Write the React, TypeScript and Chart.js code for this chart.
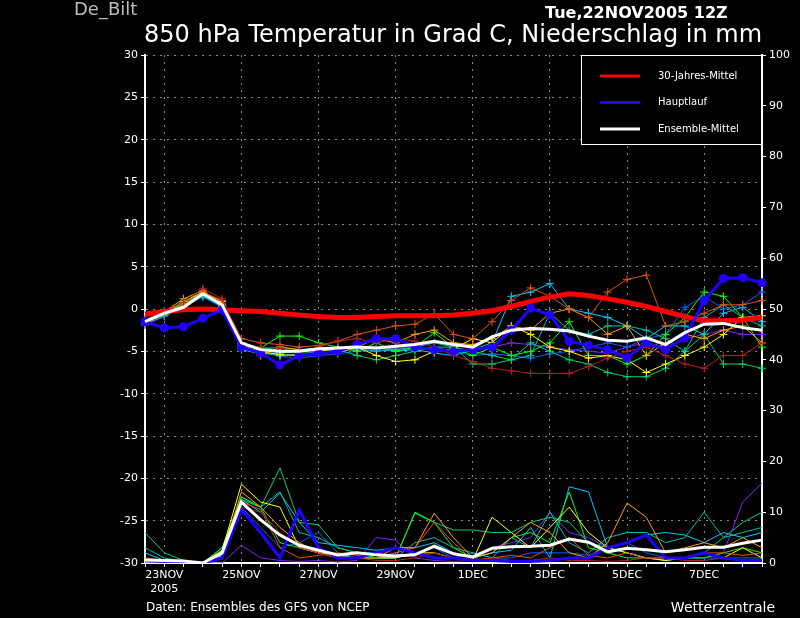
import React, { useEffect, useRef } from "react";
import { Chart, registerables } from "chart.js";
Chart.register(...registerables);

const N = 33;
const xLabels: string[][] = Array.from({ length: N }, () => [""]);
const tickNames: [number, string[]][] = [[1, ["23NOV", "2005"]], [5, ["25NOV"]], [9, ["27NOV"]], [13, ["29NOV"]], [17, ["1DEC"]], [21, ["3DEC"]], [25, ["5DEC"]], [29, ["7DEC"]]];
tickNames.forEach(([i, l]) => (xLabels[i] = l));

const climT = [-0.6,-0.3,-0.1,0.0,-0.1,-0.2,-0.3,-0.5,-0.7,-0.9,-1.0,-1.0,-0.9,-0.8,-0.8,-0.8,-0.7,-0.5,-0.2,0.3,0.9,1.4,1.8,1.6,1.2,0.8,0.3,-0.3,-0.9,-1.4,-1.4,-1.3,-1.0];
const mainT = [-1.5,-2.2,-2.1,-1.1,-0.1,-4.5,-5.2,-6.6,-5.5,-5.2,-5.0,-4.2,-3.5,-3.5,-4.5,-4.8,-5.0,-4.8,-4.5,-2.5,0.1,-0.7,-3.8,-4.3,-4.8,-5.8,-4.0,-4.8,-3.4,1.0,3.6,3.7,3.1];
const meanT = [-1.5,-0.5,0.2,1.8,0.5,-4.0,-4.8,-5.0,-5.0,-4.7,-4.6,-4.5,-4.6,-4.4,-4.2,-3.8,-4.2,-4.5,-3.3,-2.5,-2.3,-2.4,-2.6,-3.2,-3.7,-3.8,-3.4,-4.2,-2.8,-1.8,-1.7,-2.2,-2.5];
const memberColors = ["#b82020", "#e05010", "#ffa000", "#ffff00", "#00ff00", "#00d070", "#00c0a0", "#00c8ff", "#0060ff", "#8020ff"];
const memT1 = [-1.2,-0.2,0.8,2.4,1.2,-4.3,-4.5,-4.6,-5.2,-4.5,-3.8,-3.5,-4.0,-3.5,-3.8,-4.5,-5.5,-6.2,-7.0,-7.3,-7.6,-7.6,-7.6,-6.8,-5.8,-5.0,-4.5,-5.5,-6.5,-7.0,-5.5,-5.5,-4.0];
const memT2 = [-1.8,-0.6,0.5,2.0,1.0,-3.5,-4.0,-4.2,-4.5,-4.3,-3.8,-3.0,-2.5,-2.0,-1.8,-0.6,-3.0,-3.5,-1.5,1.0,2.5,1.5,0.0,-1.0,2.0,3.5,4.0,-2.0,-1.5,-0.5,0.5,0.5,1.0];
const memT3 = [-1.7,-0.3,1.2,2.2,0.5,-4.0,-5.5,-4.5,-4.8,-5.0,-5.2,-4.5,-3.5,-4.0,-3.0,-2.5,-4.0,-4.2,-3.5,-2.0,-2.5,-0.5,0.0,-1.0,-3.0,-2.0,-5.5,-4.0,-3.0,-3.5,-2.5,-2.0,-4.0];
const memT4 = [-1.6,-0.4,0.9,2.0,0.9,-4.5,-5.0,-5.4,-5.5,-5.0,-4.8,-4.5,-5.5,-6.2,-6.0,-5.0,-4.7,-3.5,-4.0,-2.0,-3.0,-4.5,-5.0,-5.8,-5.5,-6.0,-7.5,-6.5,-5.5,-4.5,-3.0,-1.0,-0.8];
const memT5 = [-1.4,-0.5,0.7,1.7,0.3,-4.0,-4.6,-3.2,-3.2,-4.0,-4.5,-5.0,-4.0,-5.0,-4.5,-2.8,-4.5,-5.5,-4.5,-5.5,-5.0,-4.0,-1.5,-5.5,-5.5,-6.5,-5.5,-3.0,-1.0,2.0,1.5,-1.0,-4.5];
const memT6 = [-1.5,-0.7,0.6,1.6,0.4,-4.2,-4.8,-4.5,-4.8,-4.6,-4.8,-5.5,-6.0,-5.5,-5.0,-4.5,-4.5,-6.5,-6.5,-6.0,-4.0,-5.0,-6.0,-6.5,-7.5,-8.0,-8.0,-7.0,-5.0,-3.0,-6.5,-6.5,-7.0];
const memT7 = [-1.3,-0.6,0.8,1.9,0.6,-4.4,-5.2,-5.5,-5.3,-5.0,-4.8,-4.6,-5.0,-4.8,-4.5,-4.0,-4.5,-5.0,-5.5,-6.0,-5.5,-0.5,-2.5,-3.0,-2.0,-2.0,-2.5,-3.5,-5.0,-1.0,0.5,-1.0,-2.0];
const memT8 = [-1.8,-0.8,0.4,1.5,0.3,-4.8,-5.3,-5.2,-5.0,-4.9,-5.0,-4.7,-4.5,-5.0,-4.8,-5.2,-5.5,-4.8,-4.0,1.5,2.0,3.0,0.0,-0.5,-1.0,-2.0,-3.5,-2.0,-2.0,-3.0,-0.5,0.2,-1.5];
const memT9 = [-1.9,-0.9,0.3,1.4,0.2,-4.6,-5.0,-5.6,-5.8,-5.5,-5.3,-5.0,-4.8,-4.9,-4.7,-4.5,-5.0,-5.5,-5.3,-5.5,-5.8,-5.3,-5.0,-4.5,-4.0,-4.5,-3.5,-3.0,0.2,1.5,0.0,0.5,2.0];
const memT10 = [-1.6,-0.5,0.6,1.8,0.7,-4.1,-4.9,-5.2,-5.0,-4.8,-4.6,-4.9,-5.0,-4.6,-4.4,-4.8,-5.2,-4.8,-4.5,-4.0,-4.2,-4.5,-4.8,-5.0,-5.2,-4.5,-4.0,-4.5,-3.5,-3.0,-2.5,-3.0,-3.0];

const mainP = [0.5,0.3,0.2,0,1,10.5,6,1,10.4,3,1,1,2,3,2,1,1,0.5,0.5,0.3,0.3,0.5,1,1,3,4,5.5,1,1,2,1,0.5,0.5];
const meanP = [0.6,0.5,0.4,0,2,12,8.5,5.5,3.5,2.5,1.6,2,1.6,1.4,1.6,3.3,1.8,1.2,2.9,3.2,3.3,3.5,4.7,4.1,2.2,2.9,2.6,2.2,2.6,3.1,3.1,3.9,4.5];
const memP1 = [0.5,0.3,0.2,0,2,11,10,6,3,2,1,1,0.5,0.5,1,2,1,0.5,1,0.5,0.5,1,0.5,0.5,0.3,0.5,1,1,0.5,0.5,1,0.5,0.5];
const memP2 = [1,0.5,0.3,0,2,12,10.5,3,1,1.5,2,1.5,1,2,3,8,4,0.5,1,1.5,1,3,5,1.5,1,2,1,1,1,2,2,1.5,2];
const memP3 = [0.5,0.4,0.3,0,1.5,14,11,7,4,2,1,1,1,3,3,9.8,5,1,2,5,8,6,2,1,4,11.8,9,2,3,4,3,5,3];
const memP4 = [0.3,0.2,0.1,0,2.5,15.5,12,11,3,2,1.5,1,1,1,2,2,1,0.5,9,6,3,7,11,6,3,2,1,0.5,1,2,1,3,1];
const memP5 = [0.5,0.3,0.2,0,3,13,11,4,3,2,1,2,1,1,10,8,3,1,2,5,6,4,14,3,2,1,1,0.5,1,1,2,3,2];
const memP6 = [6,2,0.5,0,3,12.5,11,18.7,8,7.5,3,2,1,1,9.8,8,6.5,6.5,6,6,8,9,8,4,3,2,1,1,1,2,5,8,10];
const memP7 = [3,1,0.3,0,1,13,11,14,6,5,3,2,2,1,4,5,3,2,1,5,3,10,4,2,5,6,6,4,5,10,5,6,7];
const memP8 = [2,0.5,0.2,0,1.5,12.5,10,13.8,8,4,3.5,3,2.5,3,3,4,2,1,2,2.5,7,1,15,14,3,4,5.5,6,5.5,4,6,5,6];
const memP9 = [0.5,0.3,0.2,0,1,11,7,3,4,6,2,1,1,1,2,3,1,2,1,1,2,2,2,1.5,3,4,2,1,1,1,1,1,1];
const memP10 = [0.2,0.1,0,0,0,3.5,1,0.5,0.3,0.5,0.2,0.5,5,4.5,1,0.5,0.3,0.5,3,4,5,10,6,5,3,2,1,0.5,1,1,2,12,15.7];

const memT = [memT1, memT2, memT3, memT4, memT5, memT6, memT7, memT8, memT9, memT10];
const memP = [memP1, memP2, memP3, memP4, memP5, memP6, memP7, memP8, memP9, memP10];
const legendItems: [string, string][] = [["30-Jahres-Mittel", "#ff0000"], ["Hauptlauf", "#2000ff"], ["Ensemble-Mittel", "#ffffff"]];

const FONT = "'DejaVu Sans', sans-serif";

export default function App() {
  const ref = useRef<HTMLCanvasElement>(null);
  useEffect(() => {
    document.body.style.margin = "0";
    document.body.style.background = "#000";
    const datasets: any[] = [];
    memT.forEach((d, k) => datasets.push({ data: d, yAxisID: "y", borderColor: memberColors[k], backgroundColor: memberColors[k], borderWidth: 1, pointStyle: "cross", pointRadius: 4, pointBorderWidth: 1, order: 10 }));
    memP.forEach((d, k) => datasets.push({ data: d, yAxisID: "y2", borderColor: memberColors[k], borderWidth: 1, pointRadius: 0, order: 10 }));
    datasets.push({ data: climT, yAxisID: "y", borderColor: "#ff0000", borderWidth: 5, pointRadius: 0, order: 3 });
    datasets.push({ data: mainT, yAxisID: "y", borderColor: "#2000ff", backgroundColor: "#2000ff", borderWidth: 3, pointRadius: 3, order: 2 });
    datasets.push({ data: mainP, yAxisID: "y2", borderColor: "#2000ff", borderWidth: 3, pointRadius: 0, order: 2 });
    datasets.push({ data: meanT, yAxisID: "y", borderColor: "#ffffff", borderWidth: 3, pointRadius: 0, order: 1 });
    datasets.push({ data: meanP, yAxisID: "y2", borderColor: "#ffffff", borderWidth: 3, pointRadius: 0, order: 1 });

    const deco = {
      id: "deco",
      beforeDraw(c: any) {
        const g = c.ctx;
        g.save();
        g.fillStyle = "#000";
        g.fillRect(0, 0, c.width, c.height);
        g.restore();
      },
      afterDraw(c: any) {
        const g = c.ctx;
        g.save();
        g.textBaseline = "alphabetic";
        g.fillStyle = "#bbbbbb";
        g.font = `18px ${FONT}`;
        g.textAlign = "left";
        g.fillText("De_Bilt", 74, 15);
        g.fillStyle = "#fff";
        g.font = `24px ${FONT}`;
        g.fillText("850 hPa Temperatur in Grad C, Niederschlag in mm", 144, 42);
        g.font = `bold 16px ${FONT}`;
        g.fillText("Tue,22NOV2005 12Z", 545, 18);
        g.font = `12px ${FONT}`;
        g.fillText("Daten: Ensembles des GFS von NCEP", 146, 611);
        g.font = `14px ${FONT}`;
        g.textAlign = "right";
        g.fillText("Wetterzentrale", 775, 612);
        g.fillStyle = "#000";
        g.fillRect(581, 55, 181, 90);
        g.strokeStyle = "#fff";
        g.lineWidth = 1;
        g.strokeRect(581.5, 55.5, 180, 89);
        g.font = `10px ${FONT}`;
        g.textAlign = "left";
        g.textBaseline = "middle";
        legendItems.forEach(([t, col], i) => {
          const y = 76 + i * 26.5;
          g.strokeStyle = col;
          g.lineWidth = 3;
          g.beginPath();
          g.moveTo(600, y);
          g.lineTo(640, y);
          g.stroke();
          g.fillStyle = "#fff";
          g.fillText(t, 658, y);
        });
        g.restore();
      },
    };

    const chart = new Chart(ref.current!, {
      type: "line",
      data: { labels: xLabels, datasets },
      options: {
        animation: false,
        responsive: false,
        events: [],
        layout: { padding: { top: 55, left: 0, right: 0, bottom: 0 } },
        plugins: { legend: { display: false }, tooltip: { enabled: false } },
        scales: {
          x: {
            offset: false,
            afterFit: (s: any) => { s.height = 55; },
            grid: { color: (ctx: any) => (ctx.tick && xLabels[ctx.tick.value]?.[0] ? "#888" : "rgba(0,0,0,0)"), tickColor: "#fff", tickLength: 4, lineWidth: 1 },
            border: { color: "#fff", dash: [2, 5], width: 2 },
            ticks: { color: "#fff", font: { family: FONT, size: 11 }, autoSkip: false, maxRotation: 0, padding: 2 },
          },
          y: {
            position: "left",
            min: -30, max: 30,
            afterFit: (s: any) => { s.width = 145; },
            grid: { color: "#888", tickColor: "#fff", tickLength: 4 },
            border: { color: "#fff", dash: [2, 5], width: 2 },
            ticks: { stepSize: 5, color: "#fff", font: { family: FONT, size: 11 }, padding: 3 },
          },
          y2: {
            position: "right",
            min: 0, max: 100,
            afterFit: (s: any) => { s.width = 38; },
            grid: { drawOnChartArea: false, tickColor: "#fff", tickLength: 4 },
            border: { color: "#fff", width: 2 },
            ticks: { stepSize: 10, color: "#fff", font: { family: FONT, size: 11 }, padding: 3 },
          },
        },
      } as any,
      plugins: [deco],
    });
    return () => chart.destroy();
  }, []);
  return <canvas ref={ref} width={800} height={618} style={{ display: "block" }} />;
}
